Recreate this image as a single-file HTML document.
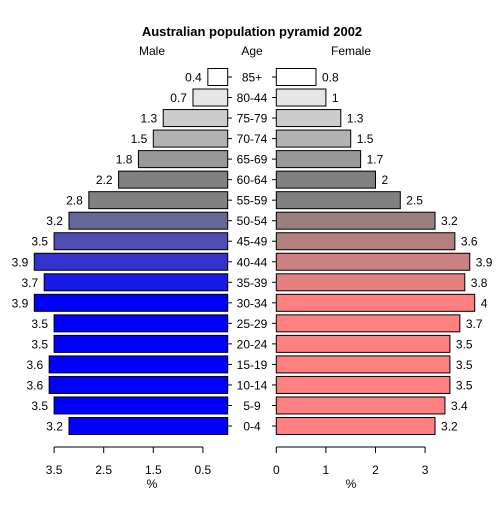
<!DOCTYPE html>
<html><head><meta charset="utf-8"><style>
body{margin:0;background:#fff}
svg text{font-family:"Liberation Sans",Arial,sans-serif;font-size:12px;fill:#000}
</style></head><body>
<svg id="c" width="504" height="504" xmlns="http://www.w3.org/2000/svg">
<text x="252" y="36" text-anchor="middle" style="font-weight:bold;font-size:13px">Australian population pyramid 2002</text>
<text x="152" y="55" text-anchor="middle">Male</text>
<text x="252" y="55" text-anchor="middle">Age</text>
<text x="351" y="55" text-anchor="middle">Female</text>
</svg>
<script>
const ages=["0-4","5-9","10-14","15-19","20-24","25-29","30-34","35-39","40-44","45-49","50-54","55-59","60-64","65-69","70-74","75-79","80-44","85+"];
const male=[3.2,3.5,3.6,3.6,3.5,3.5,3.9,3.7,3.9,3.5,3.2,2.8,2.2,1.8,1.5,1.3,0.7,0.4];
const female=[3.2,3.4,3.5,3.5,3.5,3.7,4,3.8,3.9,3.6,3.2,2.5,2,1.7,1.5,1.3,1,0.8];
const maleColors=["#0000ff","#0000ff","#0000ff","#0000ff","#0000ff","#0000ff","#0000ff","#1a1ae6","#3333cc","#4d4db3","#666699","#808080","#808080","#999999","#b3b3b3","#cccccc","#e6e6e6","#ffffff"];
const femaleColors=["#ff8080","#ff8080","#ff8080","#ff8080","#ff8080","#ff8080","#ff8080","#e68080","#cc8080","#b38080","#998080","#808080","#808080","#999999","#b3b3b3","#cccccc","#e6e6e6","#ffffff"];
const maleTicks=[3.5,2.5,1.5,0.5];
const femaleTicks=[0,1,2,3];
const svg=document.getElementById('c');const NS="http://www.w3.org/2000/svg";
const U=49.6, L0=227.7, R0=276.3;
const xm=v=>L0-v*U, xf=v=>R0+v*U;
const yc=i=>426-i*20.53;
function mk(t,a,p){const e=document.createElementNS(NS,t);for(const k in a)e.setAttribute(k,a[k]);if(p!==undefined)e.textContent=p;svg.appendChild(e);return e;}
ages.forEach((a,i)=>{
 const y=yc(i);
 let r=mk('rect',{x:xm(male[i]),y:y-8.5,width:male[i]*U,height:17,fill:maleColors[i],stroke:'#000','stroke-width':1});
 
 
 r=mk('rect',{x:R0,y:y-8.5,width:female[i]*U,height:17,fill:femaleColors[i],stroke:'#000','stroke-width':1});
 
 
 let t=mk('text',{x:xm(male[i])-6,y:y+4.5,'text-anchor':'end'},String(male[i]));
 
 
 t=mk('text',{x:xf(female[i])+6,y:y+4.5},String(female[i]));
 
 
 t=mk('text',{x:252,y:y+4.5,'text-anchor':'middle'},a);
 
 
 mk('line',{x1:228,x2:232,y1:y,y2:y,stroke:'#000'});
 mk('line',{x1:272,x2:276,y1:y,y2:y,stroke:'#000'});
});
let ax=mk('line',{x1:xm(3.5),x2:xm(0.5),y1:447,y2:447,stroke:'#000'});


ax=mk('line',{x1:xf(0),x2:xf(3),y1:447,y2:447,stroke:'#000'});


maleTicks.forEach(v=>{mk('line',{x1:xm(v),x2:xm(v),y1:447,y2:453,stroke:'#000'});
 const t=mk('text',{x:xm(v),y:474,'text-anchor':'middle'},String(v));
 
 });
femaleTicks.forEach(v=>{mk('line',{x1:xf(v),x2:xf(v),y1:447,y2:453,stroke:'#000'});
 const t=mk('text',{x:xf(v),y:474,'text-anchor':'middle'},String(v));
 
 });
let t=mk('text',{x:152,y:488,'text-anchor':'middle'},'%');


t=mk('text',{x:351,y:488,'text-anchor':'middle'},'%');


</script>
</body></html>
